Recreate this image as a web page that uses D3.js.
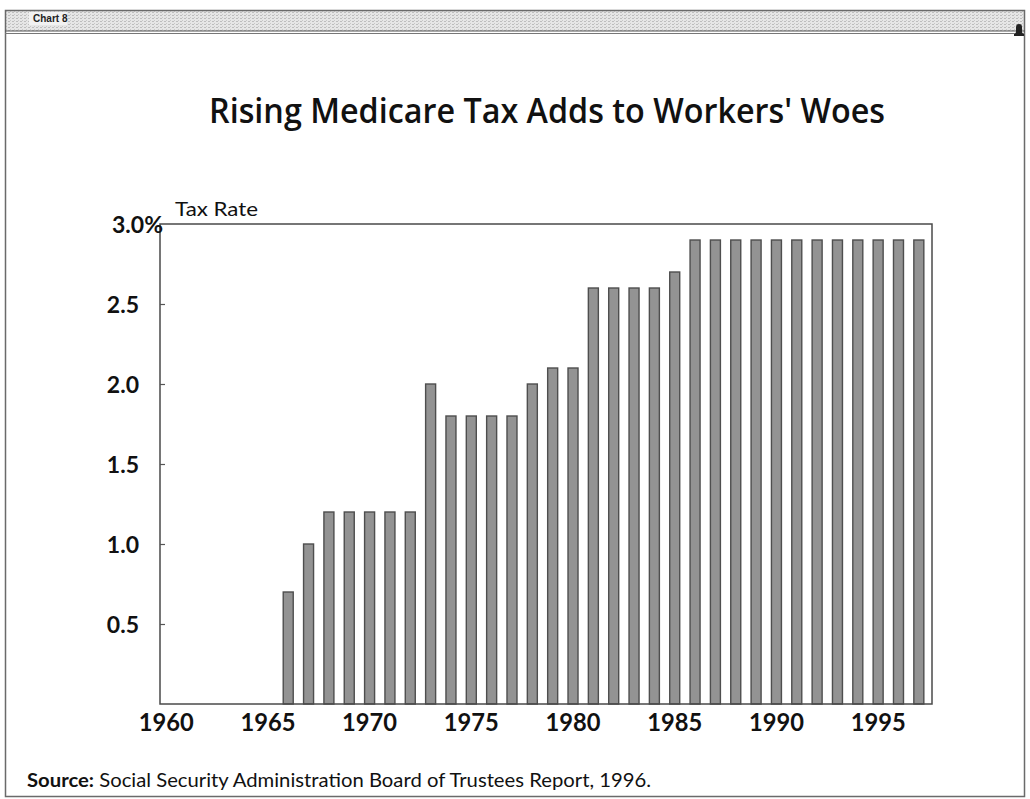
<!DOCTYPE html>
<html>
<head>
<meta charset="utf-8">
<script src="https://cdn.jsdelivr.net/npm/d3@7"></script>
<style>
  html, body { margin: 0; padding: 0; background: #fff; }
  svg { display: block; }
</style>
</head>
<body>
<svg id="chart" width="1030" height="799"></svg>
<script>
// Medicare (HI) payroll tax rate, employer + employee combined, percent
const years = [1960, 1961, 1962, 1963, 1964, 1965, 1966, 1967, 1968, 1969,
               1970, 1971, 1972, 1973, 1974, 1975, 1976, 1977, 1978, 1979,
               1980, 1981, 1982, 1983, 1984, 1985, 1986, 1987, 1988, 1989,
               1990, 1991, 1992, 1993, 1994, 1995, 1996, 1997];
const rates = [0, 0, 0, 0, 0, 0, 0.70, 1.00, 1.20, 1.20,
               1.20, 1.20, 1.20, 2.00, 1.80, 1.80, 1.80, 1.80, 2.00, 2.10,
               2.10, 2.60, 2.60, 2.60, 2.60, 2.70, 2.90, 2.90, 2.90, 2.90,
               2.90, 2.90, 2.90, 2.90, 2.90, 2.90, 2.90, 2.90];
const yTicks = [0.5, 1.0, 1.5, 2.0, 2.5, 3.0];
const yTickLabels = ["0.5", "1.0", "1.5", "2.0", "2.5", "3.0%"];
const xTickYears = [1960, 1965, 1970, 1975, 1980, 1985, 1990, 1995];

const titleText = "Rising Medicare Tax Adds to Workers' Woes";
const axisTitle = "Tax Rate";
const sourceLabel = "Source:";
const sourceText = " Social Security Administration Board of Trustees Report, 1996.";
const panelLabel = "Chart 8";

const data = years.map((yr, i) => ({ year: yr, rate: rates[i] }));

const svg = d3.select("#chart");
const font = "Lato, 'Open Sans', sans-serif";

// ---- window frame -------------------------------------------------------
const defs = svg.append("defs");
const pat = defs.append("pattern")
  .attr("id", "bandTex").attr("width", 4).attr("height", 3)
  .attr("patternUnits", "userSpaceOnUse");
pat.append("rect").attr("width", 4).attr("height", 3).attr("fill", "#e6e6e6");
pat.append("rect").attr("x", 0).attr("y", 0).attr("width", 2).attr("height", 1).attr("fill", "#bdbdbd");
pat.append("rect").attr("x", 2).attr("y", 2).attr("width", 1).attr("height", 1).attr("fill", "#c8c8c8");

svg.append("rect")
  .attr("x", 5).attr("y", 10).attr("width", 1020).attr("height", 21)
  .attr("fill", "url(#bandTex)");
svg.append("rect")
  .attr("x", 5.5).attr("y", 10.5).attr("width", 1019).attr("height", 786)
  .attr("fill", "none").attr("stroke", "#6a6a6a").attr("stroke-width", 1.5);
svg.append("line").attr("x1", 5).attr("x2", 1025).attr("y1", 31).attr("y2", 31)
  .attr("stroke", "#555").attr("stroke-width", 1.2);
svg.append("line").attr("x1", 5).attr("x2", 1025).attr("y1", 33.5).attr("y2", 33.5)
  .attr("stroke", "#777").attr("stroke-width", 1);
svg.append("rect").attr("x", 29).attr("y", 12).attr("width", 38).attr("height", 13)
  .attr("fill", "#f2f2f2");
svg.append("text")
  .attr("x", 33).attr("y", 22)
  .attr("font-family", "'Liberation Sans Narrow', 'Liberation Sans', sans-serif")
  .attr("font-size", 10).attr("font-weight", "bold").attr("fill", "#222")
  .text(panelLabel);
// small bell glyph at the right end of the bar
const bell = svg.append("g").attr("transform", "translate(1019,27)");
bell.append("path")
  .attr("d", "M-4,7 L4,7 L3,5 L3,0 Q3,-3 0,-3 Q-3,-3 -3,0 L-3,5 Z")
  .attr("fill", "#222");
bell.append("rect").attr("x", -5).attr("y", 7).attr("width", 10).attr("height", 2).attr("fill", "#222");

// ---- title --------------------------------------------------------------
svg.append("text")
  .attr("x", 547).attr("y", 123)
  .attr("text-anchor", "middle")
  .attr("font-family", "'Open Sans', 'Noto Sans', sans-serif").attr("font-weight", 600)
  .attr("font-size", 34).attr("fill", "#111")
  .attr("textLength", 676).attr("lengthAdjust", "spacingAndGlyphs")
  .text(titleText);

// ---- plot area ----------------------------------------------------------
const plot = { left: 160, right: 932, top: 224, bottom: 704 };

const x = d3.scaleBand()
  .domain(years)
  .range([156, 929])
  .paddingInner(0.5)
  .paddingOuter(0.25);

const y = d3.scaleLinear()
  .domain([0, 3])
  .range([plot.bottom, plot.top]);

// bars
svg.append("g")
  .selectAll("rect")
  .data(data.filter(d => d.rate > 0))
  .join("rect")
  .attr("x", d => x(d.year) + x.bandwidth() / 2 - 5)
  .attr("y", d => y(d.rate))
  .attr("width", 10)
  .attr("height", d => y(0) - y(d.rate))
  .attr("fill", "#939393")
  .attr("stroke", "#4e4e4e")
  .attr("stroke-width", 1.4);

// frame around the plot
svg.append("rect")
  .attr("x", plot.left).attr("y", plot.top)
  .attr("width", plot.right - plot.left).attr("height", plot.bottom - plot.top)
  .attr("fill", "none").attr("stroke", "#4a4a4a").attr("stroke-width", 1.5);

// y axis: short ticks pointing into the plot, labels to the left
const yAxis = svg.append("g")
  .attr("transform", `translate(${plot.left},0)`)
  .call(d3.axisLeft(y)
    .tickValues(yTicks)
    .tickFormat((d, i) => yTickLabels[i])
    .tickSizeInner(-5)
    .tickSizeOuter(0)
    .tickPadding(21));
yAxis.select(".domain").remove();
yAxis.selectAll(".tick line").attr("stroke", "#555").attr("stroke-width", 1.2);
yAxis.selectAll(".tick text")
  .attr("font-family", font).attr("font-weight", "bold")
  .attr("font-size", 23).attr("fill", "#111")
  .attr("dy", "0.36em");
yAxis.selectAll(".tick").filter(d => d === 3.0).select("line").remove();
yAxis.selectAll(".tick").filter(d => d === 3.0).select("text").attr("x", 3);

// x axis labels
const xAxis = svg.append("g")
  .attr("transform", `translate(0,${plot.bottom})`)
  .call(d3.axisBottom(x)
    .tickValues(xTickYears)
    .tickSize(0)
    .tickPadding(10));
xAxis.select(".domain").remove();
xAxis.selectAll(".tick text")
  .attr("font-family", font).attr("font-weight", "bold")
  .attr("font-size", 24).attr("fill", "#111")
  .attr("dy", "0.71em")
  .attr("textLength", 55).attr("lengthAdjust", "spacingAndGlyphs");

// axis title
svg.append("text")
  .attr("x", 175).attr("y", 216)
  .attr("font-family", font).attr("font-size", 20).attr("fill", "#111")
  .attr("textLength", 83).attr("lengthAdjust", "spacingAndGlyphs")
  .text(axisTitle);

// ---- source note --------------------------------------------------------
const src = svg.append("text")
  .attr("x", 27).attr("y", 787)
  .attr("font-family", font).attr("font-size", 19).attr("fill", "#111")
  .attr("textLength", 624).attr("lengthAdjust", "spacingAndGlyphs");
src.append("tspan").attr("font-weight", "bold").text(sourceLabel);
src.append("tspan").text(sourceText);
</script>
</body>
</html>
